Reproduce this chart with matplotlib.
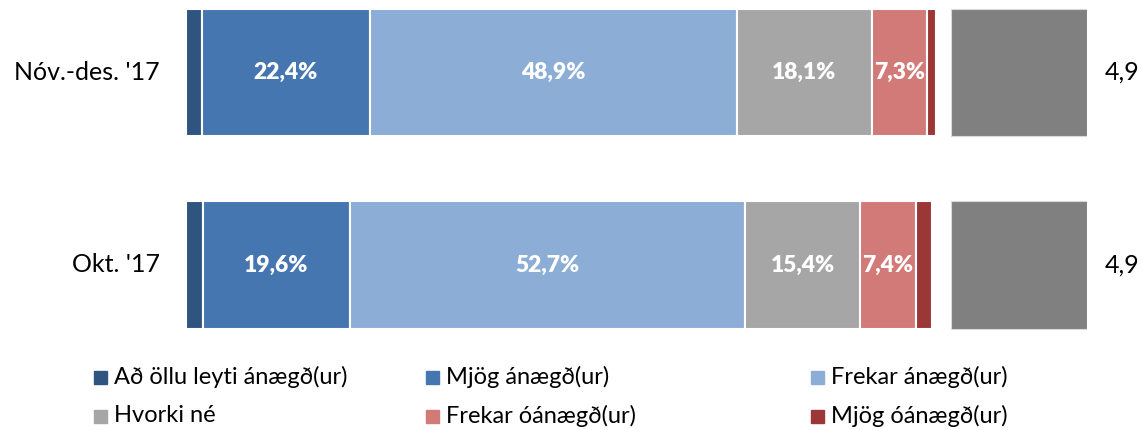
import matplotlib.pyplot as plt
from matplotlib.patches import Rectangle

plt.rcParams['font.family'] = ['Lato', 'DejaVu Sans']

periods = ["Okt. '17", "Nóv.-des. '17"]
categories = ["Að öllu leyti ánægð(ur)", "Mjög ánægð(ur)", "Frekar ánægð(ur)",
              "Hvorki né", "Frekar óánægð(ur)", "Mjög óánægð(ur)"]
colors = ["#2f5480", "#4576b0", "#8caed6", "#a6a6a6", "#d27a78", "#9c3737"]

# share of answers per period, same order as periods
shares = [
    [2.2, 19.6, 52.7, 15.4, 7.4, 2.2],
    [2.1, 22.4, 48.9, 18.1, 7.3, 1.2],
]
show_label = [False, True, True, True, True, False]
means = [4.9, 4.9]

W, H = 1143, 430
fig = plt.figure(figsize=(W / 100, H / 100), dpi=100)

def px_axes(x0, x1, y0, y1):
    return fig.add_axes([x0 / W, 1 - y1 / H, (x1 - x0) / W, (y1 - y0) / H])

ax = px_axes(186, 936, 1, 342)
ax_m = px_axes(951, 1087, 1, 342)

ypos = [0, 1]
bar_h = 0.66
for i, row in enumerate(shares):
    left = 0
    for j, v in enumerate(row):
        ax.barh(ypos[i], v, left=left, height=bar_h, color=colors[j],
                edgecolor="white", linewidth=1.5)
        if show_label[j]:
            ax.text(left + v / 2, ypos[i], f"{v:.1f}%".replace(".", ","),
                    ha="center", va="center", color="white",
                    fontsize=16.5, fontweight="heavy")
        left += v

for i, m in enumerate(means):
    ax_m.barh(ypos[i], m, height=bar_h, color="#808080", edgecolor="#d9d9d9", linewidth=0.8)
    ax_m.text(m + 0.65, ypos[i], f"{m:.1f}".replace(".", ","), ha="left", va="center",
              fontsize=18, color="black")

for a, lim in ((ax, 100), (ax_m, 4.9)):
    a.set_xlim(0, lim)
    a.set_ylim(-0.4, 1.37)
    a.axis("off")

for i, p in enumerate(periods):
    ax.text(-0.035 * 100, ypos[i], p, ha="right", va="center", fontsize=18)

# legend drawn by hand so the three columns sit on fixed positions
leg_x = [94, 426, 811]
leg_y = [377, 416]
for k, name in enumerate(categories):
    r, c = divmod(k, 3)
    x, y = leg_x[c], leg_y[r]
    fig.patches.append(Rectangle((x / W, 1 - (y + 6.5) / H), 13 / W, 13 / H,
                                 transform=fig.transFigure, color=colors[k]))
    fig.text((x + 20) / W, 1 - y / H, name, ha="left", va="center", fontsize=17)

fig.savefig("out.png", dpi=100)
